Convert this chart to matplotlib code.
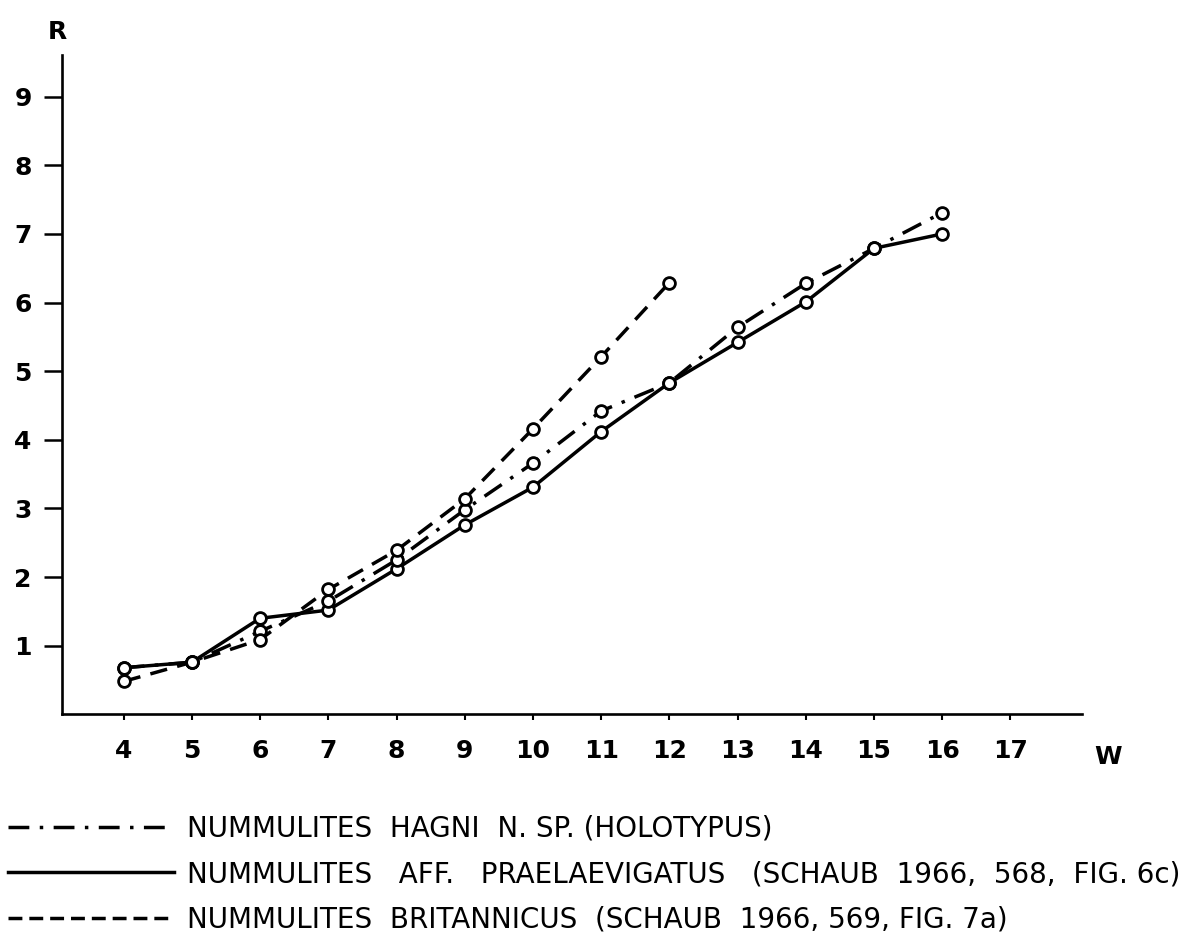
import matplotlib
matplotlib.use("Agg")
import matplotlib.pyplot as plt
from matplotlib.lines import Line2D

# données (W = tours, R = rayon)
w_hagni = [4, 5, 6, 7, 8, 9, 10, 11, 12, 13, 14, 15, 16]
r_hagni = [0.68, 0.76, 1.21, 1.65, 2.25, 2.98, 3.66, 4.42, 4.83, 5.64, 6.28, 6.79, 7.31]

w_prae = [4, 5, 6, 7, 8, 9, 10, 11, 12, 13, 14, 15, 16]
r_prae = [0.68, 0.76, 1.40, 1.52, 2.12, 2.76, 3.31, 4.12, 4.83, 5.42, 6.01, 6.79, 7.00]

w_brit = [4, 5, 6, 7, 8, 9, 10, 11, 12]
r_brit = [0.48, 0.76, 1.09, 1.82, 2.39, 3.14, 4.16, 5.21, 6.29]

x_ticks = list(range(4, 18))
y_ticks = list(range(1, 10))

labels = [
    "NUMMULITES  HAGNI  N. SP. (HOLOTYPUS)",
    "NUMMULITES   AFF.   PRAELAEVIGATUS   (SCHAUB  1966,  568,  FIG. 6c)",
    "NUMMULITES  BRITANNICUS  (SCHAUB  1966, 569, FIG. 7a)",
]

plt.rcParams["font.family"] = ["DejaVu Sans"]

fig = plt.figure(figsize=(11.97, 9.4), dpi=100)
ax = fig.add_axes([0.052, 0.240, 0.852, 0.701])

lw = 2.5
common = dict(color="black", lw=lw, marker="o", ms=8.5, mfc="white",
              mec="black", mew=2.0)
ax.plot(w_prae, r_prae, ls="-", **common, zorder=3)
ax.plot(w_hagni, r_hagni, ls=(0, (6, 3, 1, 3)), **common, zorder=4)
ax.plot(w_brit, r_brit, ls=(0, (5, 3)), **common, zorder=5)

ax.set_xlim(3.1, 18.05)
ax.set_ylim(0, 9.6)
for s in ["top", "right"]:
    ax.spines[s].set_visible(False)
for s in ["left", "bottom"]:
    ax.spines[s].set_linewidth(1.9)

ax.set_xticks(x_ticks)
ax.set_yticks(y_ticks)
ax.tick_params(axis="y", direction="out", length=13, width=1.8, pad=9,
               labelsize=18)
ax.tick_params(axis="x", direction="out", length=4, width=1.5, pad=14,
               labelsize=18)
for t in ax.get_xticklabels() + ax.get_yticklabels():
    t.set_fontweight("bold")

ax.text(-0.005, 1.035, "R", transform=ax.transAxes, fontsize=18,
        fontweight="bold", ha="center", va="center")
ax.text(1.025, -0.065, "W", transform=ax.transAxes, fontsize=18,
        fontweight="bold", ha="center", va="center")

# légende
handles = [
    Line2D([], [], color="black", lw=lw, ls=(0, (6, 3, 1, 3))),
    Line2D([], [], color="black", lw=lw, ls="-"),
    Line2D([], [], color="black", lw=lw, ls=(0, (4, 2))),
]
fig.legend(handles, labels, loc="upper left", bbox_to_anchor=(-0.003, 0.145),
           frameon=False, fontsize=20, handlelength=6.0, handletextpad=0.45,
           labelspacing=0.62, borderaxespad=0)

fig.savefig("out.png", dpi=100)
